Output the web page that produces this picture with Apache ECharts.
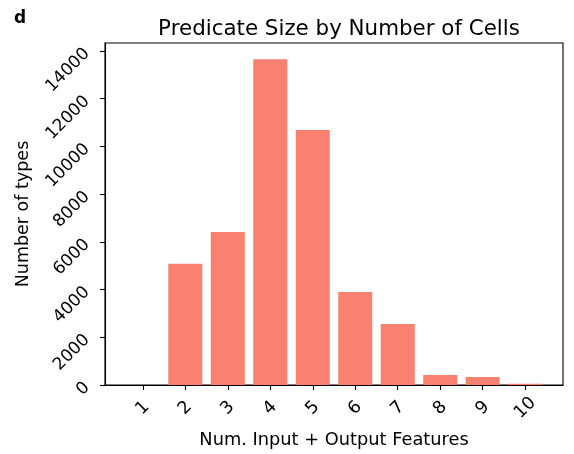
<!DOCTYPE html>
<html>
<head>
<meta charset="utf-8">
<script src="https://cdn.jsdelivr.net/npm/echarts@6/dist/echarts.min.js"></script>
<style>html,body{margin:0;padding:0;background:#fff}#c{width:574px;height:454px}</style>
</head>
<body>
<div id="c"></div>
<script>
const categories = [1, 2, 3, 4, 5, 6, 7, 8, 9, 10];
const counts = [5, 5085, 6414, 13650, 10690, 3899, 2557, 419, 335, 50];
const yTicks = [0, 2000, 4000, 6000, 8000, 10000, 12000, 14000];
const titleText = 'Predicate Size by Number of Cells';
const xName = 'Num. Input + Output Features';
const yName = 'Number of types';

const font = 'DejaVu Sans';
const chart = echarts.init(document.getElementById('c'), null, {renderer: 'canvas'});
chart.setOption({
  animation: false,
  backgroundColor: '#fff',
  title: [{
    text: titleText, left: 334, top: 14, textAlign: 'center',
    textStyle: {fontFamily: font, fontSize: 21.4, fontWeight: 'normal', color: '#000'}
  }, {
    text: 'd', left: 9, top: 5,
    textStyle: {fontFamily: font, fontSize: 17, fontWeight: 'bold', color: '#000'}
  }],
  grid: {left: 105, right: 11, top: 43, bottom: 69, outerBoundsMode: 'none', containLabel: false,
    show: true, borderColor: '#000', borderWidth: 1.1, backgroundColor: 'transparent'},
  xAxis: {
    type: 'value', min: 0.11, max: 10.89,
    name: xName, nameLocation: 'middle', nameGap: 46,
    nameTextStyle: {fontFamily: font, fontSize: 17.8, color: '#000'},
    splitLine: {show: false},
    axisLine: {show: true, lineStyle: {color: '#000', width: 1.1}},
    axisTick: {show: true, length: 5, lineStyle: {color: '#000', width: 1.1}, customValues: categories},
    axisLabel: {customValues: categories, rotate: 45, margin: 23, align: 'center', verticalAlign: 'middle',
      fontFamily: font, fontSize: 17.5, color: '#000', formatter: v => String(v)}
  },
  yAxis: {
    type: 'value', min: 0, max: 14336,
    name: yName, nameLocation: 'middle', nameGap: 71,
    nameTextStyle: {fontFamily: font, fontSize: 17.5, color: '#000'},
    splitLine: {show: false},
    axisLine: {show: true, lineStyle: {color: '#000', width: 1.1}},
    axisTick: {show: true, length: 5, lineStyle: {color: '#000', width: 1.1}, customValues: yTicks},
    axisLabel: {customValues: yTicks, rotate: 45, margin: 18,
      fontFamily: font, fontSize: 17, color: '#000', formatter: v => String(v)}
  },
  series: [{
    type: 'bar',
    data: categories.map((c, i) => [c, counts[i]]),
    barWidth: 34,
    itemStyle: {color: '#FA8072', borderWidth: 0}
  }]
});
</script>
</body>
</html>
